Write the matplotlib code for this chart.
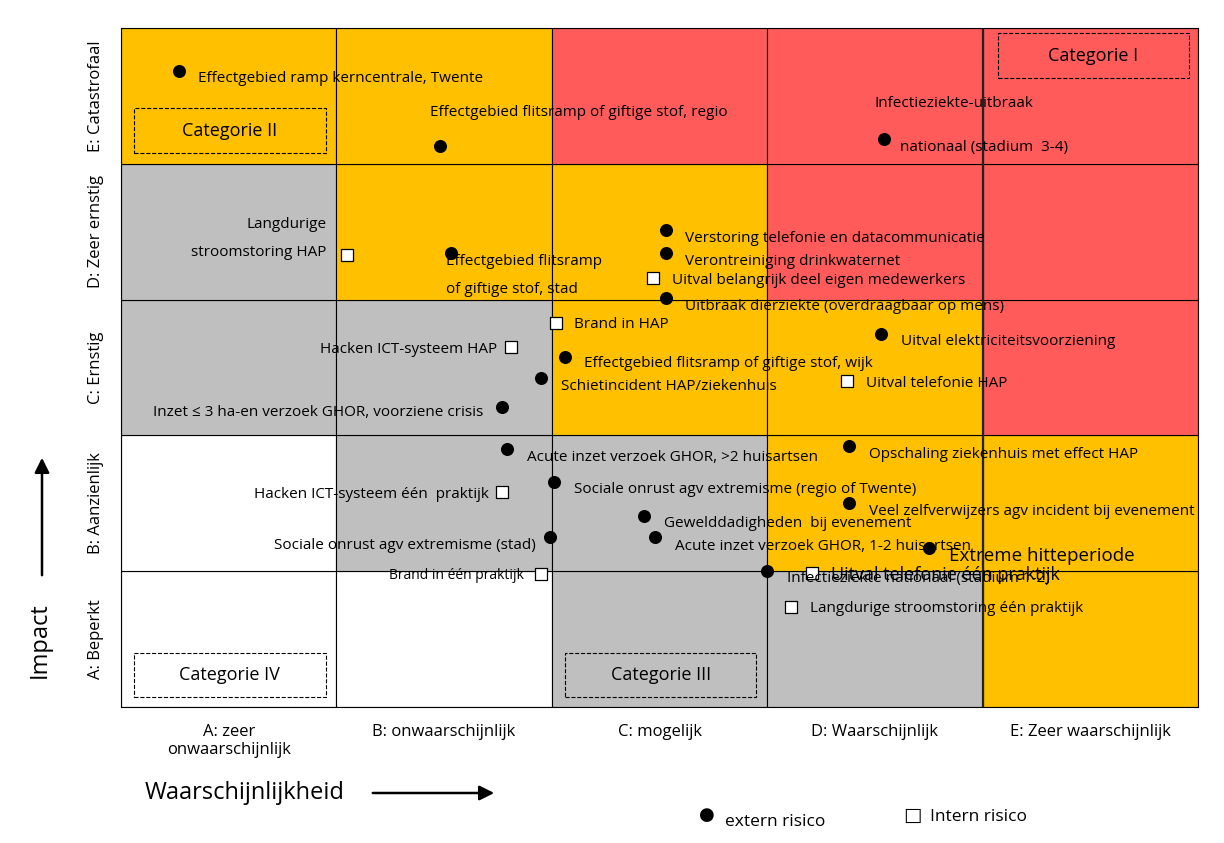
import matplotlib.pyplot as plt
from matplotlib.patches import Rectangle

plt.rcParams['font.family'] = ['Open Sans', 'DejaVu Sans']

x_labels = ['A: zeer\nonwaarschijnlijk', 'B: onwaarschijnlijk', 'C: mogelijk',
            'D: Waarschijnlijk', 'E: Zeer waarschijnlijk']
y_labels = ['A: Beperkt', 'B: Aanzienlijk', 'C: Ernstig', 'D: Zeer ernstig', 'E: Catastrofaal']

# cell colour per impact row (bottom->top), per likelihood column
W, G, O, R = 'white', '#bfbfbf', '#ffc000', '#ff5b5b'
cells = [
    [W, W, G, G, O],
    [W, G, G, O, O],
    [G, G, O, O, R],
    [G, O, O, R, R],
    [O, O, R, R, R],
]

# external risks: x, y in cell units; label, pixel offset, alignment
ext_x = [0.27, 1.48, 3.54, 2.53, 2.53, 1.53, 2.53, 3.53, 2.06, 1.95, 1.77, 1.79,
         3.38, 2.01, 3.38, 2.43, 2.48, 1.99, 3.75, 3.00]
ext_y = [4.68, 4.13, 4.18, 3.51, 3.34, 3.34, 3.01, 2.75, 2.58, 2.42, 2.21, 1.90,
         1.92, 1.66, 1.50, 1.41, 1.25, 1.25, 1.17, 1.00]
ext_labels = [
    ('Effectgebied ramp kerncentrale, Twente', 19, -7, 'left', 11),
    ('Effectgebied flitsramp of giftige stof, regio', -10, 34, 'left', 11),
    ('Infectieziekte-uitbraak', -9, 36, 'left', 11),
    ('Verstoring telefonie en datacommunicatie', 19, -8, 'left', 11),
    ('Verontreiniging drinkwaternet', 19, -8, 'left', 11),
    ('Effectgebied flitsramp\n\nof giftige stof, stad', -5, -22, 'left', 11),
    ('Uitbraak dierziekte (overdraagbaar op mens)', 19, -8, 'left', 11),
    ('Uitval elektriciteitsvoorziening', 20, -8, 'left', 11),
    ('Effectgebied flitsramp of giftige stof, wijk', 19, -7, 'left', 11),
    ('Schietincident HAP/ziekenhuis', 20, -8, 'left', 11),
    ('Inzet \u2264 3 ha-en verzoek GHOR, voorziene crisis', -19, -6, 'right', 11),
    ('Acute inzet verzoek GHOR, >2 huisartsen', 20, -9, 'left', 11),
    ('Opschaling ziekenhuis met effect HAP', 20, -8, 'left', 11),
    ('Sociale onrust agv extremisme (regio of Twente)', 20, -8, 'left', 11),
    ('Veel zelfverwijzers agv incident bij evenement', 20, -8, 'left', 11),
    ('Gewelddadigheden  bij evenement', 20, -8, 'left', 11),
    ('Acute inzet verzoek GHOR, 1-2 huisartsen', 20, -9, 'left', 11),
    ('Sociale onrust agv extremisme (stad)', -14, -8, 'right', 11),
    ('Extreme hitteperiode', 20, -8, 'left', 13.5),
    ('Infectieziekte nationaal (stadium 1-2)', 20, -7, 'left', 11),
]

# internal risks
int_x = [1.05, 2.47, 2.02, 1.81, 3.37, 1.77, 1.95, 3.21, 3.11]
int_y = [3.33, 3.16, 2.83, 2.65, 2.40, 1.58, 0.98, 0.99, 0.74]
int_labels = [
    ('Langdurige\n\nstroomstoring HAP', -21, 16, 'right', 11),
    ('Uitval belangrijk deel eigen medewerkers', 19, -3, 'left', 11),
    ('Brand in HAP', 18, -2, 'left', 11),
    ('Hacken ICT-systeem HAP', -14, -2, 'right', 11),
    ('Uitval telefonie HAP', 19, -2, 'left', 11),
    ('Hacken ICT-systeem één  praktijk', -13, -2, 'right', 11),
    ('Brand in één praktijk', -17, -2, 'right', 10),
    ('Uitval telefonie één praktijk', 19, -2, 'left', 13),
    ('Langdurige stroomstoring één praktijk', 19, -2, 'left', 11),
]

categories = [('Categorie I', 4.07, 4.63), ('Categorie II', 0.06, 4.08),
              ('Categorie III', 2.06, 0.07), ('Categorie IV', 0.06, 0.07)]

fig = plt.figure(figsize=(12.24, 8.43), dpi=100)
ax = fig.add_axes([121 / 1224, 136 / 843, 1077 / 1224, 679 / 843])

for r, row in enumerate(cells):
    for c, col in enumerate(row):
        ax.add_patch(Rectangle((c, r), 1, 1, facecolor=col, edgecolor='black', lw=0.8))
ax.axvline(4, color='#222222', lw=1.6)

for name, cx, cy in categories:
    ax.add_patch(Rectangle((cx, cy), 0.89, 0.33, fill=False, ls='--', lw=0.8, edgecolor='black'))
    ax.text(cx + 0.445, cy + 0.165, name, ha='center', va='center', fontsize=13)

ax.scatter(ext_x, ext_y, s=70, color='black', zorder=3)
ax.scatter(int_x, int_y, s=70, marker='s', facecolor='white', edgecolor='black', lw=0.9, zorder=3)

for xs, ys, labels in [(ext_x, ext_y, ext_labels), (int_x, int_y, int_labels)]:
    for x, y, (txt, dx, dy, ha, fs) in zip(xs, ys, labels):
        ax.annotate(txt, (x, y), xytext=(dx, dy), textcoords='offset pixels',
                    ha=ha, va='center', fontsize=fs, linespacing=0.9)
# second line of the national outbreak label
ax.annotate('nationaal (stadium  3-4)', (ext_x[2], ext_y[2]), xytext=(16, -8),
            textcoords='offset pixels', ha='left', va='center', fontsize=11)

ax.set_xlim(0, 5)
ax.set_ylim(0, 5)
ax.set_xticks([0.5, 1.5, 2.5, 3.5, 4.5], x_labels, fontsize=12)
ax.set_yticks([0.5, 1.5, 2.5, 3.5, 4.5], y_labels, fontsize=12, rotation=90, va='center')
ax.tick_params(length=0, pad=12)
for s in ax.spines.values():
    s.set_linewidth(0.8)

fig.text(40 / 1224, 1 - 640 / 843, 'Impact', rotation=90, ha='center', va='center', fontsize=17)
fig.add_artist(plt.Annotation('', xy=(42 / 1224, 1 - 455 / 843), xytext=(42 / 1224, 1 - 578 / 843),
                              xycoords='figure fraction',
                              arrowprops=dict(arrowstyle='-|>', lw=1.8, color='black',
                                              mutation_scale=22)))
fig.text(245 / 1224, 1 - 793 / 843, 'Waarschijnlijkheid', ha='center', va='center', fontsize=17)
fig.add_artist(plt.Annotation('', xy=(497 / 1224, 1 - 793 / 843), xytext=(370 / 1224, 1 - 793 / 843),
                              xycoords='figure fraction',
                              arrowprops=dict(arrowstyle='-|>', lw=1.8, color='black',
                                              mutation_scale=22)))

fig.text(707 / 1224, 1 - 815 / 843, '\u25CF', ha='center', va='center', fontsize=13)
fig.text(725 / 1224, 1 - 822 / 843, 'extern risico', va='center', fontsize=12.5)
fig.text(912 / 1224, 1 - 816 / 843, '\u25A1', ha='center', va='center', fontsize=14)
fig.text(930 / 1224, 1 - 817 / 843, 'Intern risico', va='center', fontsize=12.5)

fig.savefig('out.png', dpi=100)
